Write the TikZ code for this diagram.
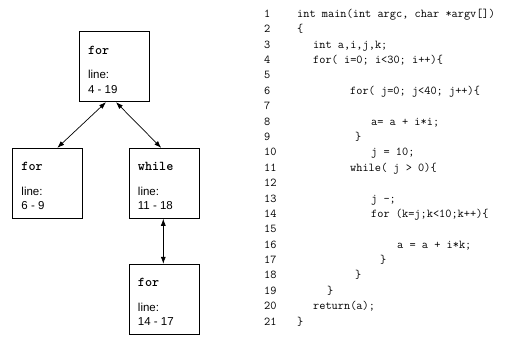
\documentclass[tikz,border=0pt]{standalone}
\usepackage{fontspec}
\setmainfont{Liberation Sans}
\usetikzlibrary{calc, arrows.meta}

\begin{document}
\begin{tikzpicture}[x=1pt, y=-1pt,
    loopBox/.style={draw, line width=0.9pt, minimum width=70pt, minimum height=70pt, inner sep=0pt},
    keyword/.style={anchor=base west, inner sep=0pt, font=\fontsize{13.5}{15}\selectfont\ttfamily\bfseries},
    lineInfo/.style={anchor=base west, inner sep=0pt, font=\fontsize{11.5}{14}\selectfont},
    codeLine/.style={anchor=base west, inner sep=0pt, font=\fontsize{12}{14}\selectfont\ttfamily},
    link/.style={{Latex[length=7pt,width=5pt]}-{Latex[length=7pt,width=5pt]}, line width=0.7pt}]

  \useasboundingbox (0,0) rectangle (513,342);

  % Loop boxes: name / centre / keyword / line range
  \foreach \boxName/\cx/\cy/\kw/\range in {outer/114.3/66.7/for/4 - 19,
                                           first/47.7/183.3/for/6 - 9,
                                           loopWhile/164.2/183.3/while/11 - 18,
                                           inner/164.2/299.3/for/14 - 17} {
    \node[loopBox] (\boxName) at (\cx,\cy) {};
    \node[keyword] (\boxName-kw) at ($(\boxName.north west)+(9,23)$) {\kw};
    \node[lineInfo] (\boxName-line) at ($(\boxName.north west)+(9,47.3)$) {line:};
    \node[lineInfo] (\boxName-range) at ($(\boxName.north west)+(9,61.8)$) {\range};
  }

  % Nesting links
  \draw[link] ([xshift=-8.3pt]outer.south) -- ([xshift=9.6pt]first.north);
  \draw[link] ([xshift=1.7pt]outer.south) -- ([xshift=-3pt]loopWhile.north);
  \draw[link] ([xshift=-0.9pt]loopWhile.south) -- ([xshift=-0.9pt]inner.north);

  % Source listing: line number / indent / code
  \foreach \n/\x/\code in {1/297/{int main(int argc, char *argv[])},
                           2/297/{\{},
                           3/313/{int a,i,j,k;},
                           4/313/{for( i=0; i<30; i++)\{},
                           5/313/{},
                           6/350/{for( j=0; j<40; j++)\{},
                           7/350/{},
                           8/371/{a= a + i*i;},
                           9/355/{\}},
                           10/371/{j = 10;},
                           11/350/{while( j > 0)\{},
                           12/350/{},
                           13/371/{j -;},
                           14/371/{for (k=j;k<10;k++)\{},
                           15/371/{},
                           16/397/{a = a + i*k;},
                           17/380/{\}},
                           18/355/{\}},
                           19/327/{\}},
                           20/313/{return(a);},
                           21/297/{\}}} {
    \node[codeLine] (num-\n) at (264,{17.5+15.375*(\n-1)}) {\n};
    \node[codeLine] (code-\n) at (\x,{17.5+15.375*(\n-1)}) {\code};
  }

\end{tikzpicture}
\end{document}
